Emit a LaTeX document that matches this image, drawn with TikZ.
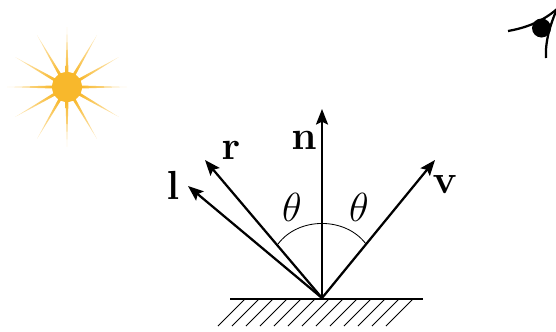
\documentclass[tikz,border=0pt]{standalone}
\usetikzlibrary{arrows.meta}
\definecolor{sunorange}{RGB}{248,184,44}
\tikzset{
  ray/.style={-{Stealth[length=11pt,width=8.5pt,inset=2pt]},line width=1.6pt},
  lab/.style={inner sep=0pt,font=\Huge,scale=1.16,transform shape},
  hatchline/.style={line width=0.55pt},
  lid/.style={line width=1.6pt}
}
\begin{document}
\begin{tikzpicture}[x=0.025cm,y=-0.025cm,>=Latex]
  \useasboundingbox (0,0) rectangle (556,331);
  % sun
  \foreach \a in {0,30,...,330} {
    \begin{scope}[transform canvas={rotate around={\a:(67,87)}}]
      \shade[left color=sunorange,middle color=sunorange,right color=sunorange!25!white]
        (81,85.5) -- (127,87) -- (81,88.5) -- cycle;
    \end{scope}
  }
  \fill[sunorange] (67,87) circle (15);
  % eye
  \begin{scope}
    \clip (490,0) rectangle (556,70);
    \fill (541.5,28) circle (9.5);
    \coordinate (lidl) at (508,31);
    \coordinate (lidr) at (557,9);
    \coordinate (lidb) at (546,58);
    \draw[lid] (lidl) .. controls (525,28) and (542,22) .. (lidr);
    \draw[lid] (lidb) .. controls (545,42) and (550,25) .. (lidr);
  \end{scope}
  % surface
  \coordinate (hit) at (322,298);
  \coordinate (gl) at (230,299);
  \coordinate (gr) at (423,299);
  \draw[line width=1.6pt] (gl) -- (gr);
  \foreach \x in {0,...,12}
    \draw[hatchline] ({245+14*\x},299) -- ({218+14*\x},326);
  % rays
  \coordinate (l) at (188,186);
  \coordinate (r) at (205,160);
  \coordinate (n) at (322,109);
  \coordinate (v) at (435,160);
  \foreach \tip in {l,r,n,v}
    \draw[ray] (hit) -- (\tip);
  % angle
  \coordinate (al) at (278,244);
  \coordinate (ar) at (366,244);
  \draw[line width=0.6pt] (al) to[bend left=53] (ar);
  \node[lab] (lablb) at (173,185) {$\mathbf{l}$};
  \node[lab] (labrb) at (231,150) {$\mathbf{r}$};
  \node[lab] (labnb) at (304,140) {$\mathbf{n}$};
  \node[lab] (labvb) at (445,184) {$\mathbf{v}$};
  \node[lab] (thl) at (292,207) {$\theta$};
  \node[lab] (thr) at (359,207) {$\theta$};
\end{tikzpicture}
\end{document}
